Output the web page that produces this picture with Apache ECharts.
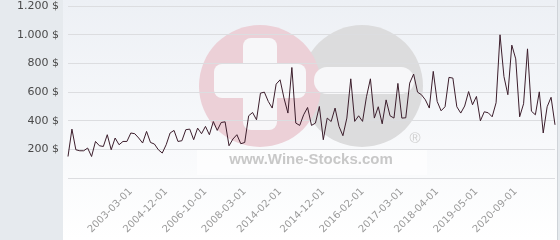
<!DOCTYPE html>
<html>
<head>
<meta charset="utf-8">
<script src="https://cdn.jsdelivr.net/npm/echarts@6/dist/echarts.min.js"></script>
<style>html,body{margin:0;padding:0;background:#e6eaee;}#c{width:560px;height:240px;}</style>
</head>
<body>
<div id="c"></div>
<script>
// Price series (USD), one value per auction date
const prices = [150,341,197,190,190,209,150,255,225,220,302,197,279,232,255,255,314,309,279,244,325,248,237,197,
174,232,314,332,255,260,337,341,267,348,309,360,302,394,332,387,392,225,272,302,239,248,434,457,406,592,
599,534,488,655,685,557,453,771,383,367,441,492,367,383,499,267,418,394,488,360,295,418,692,
395,434,395,567,692,418,497,378,545,434,418,660,418,420,662,725,599,581,545,488,744,534,469,497,702,697,
497,453,502,603,511,569,399,462,455,427,525,999,708,581,927,831,427,518,901,466,441,601,314,497,563,371];
// Labelled dates and the data point each one belongs to
const xTickLabels = ['2003-03-01','2004-12-01','2006-10-01','2008-03-01','2014-02-01','2014-12-01','2016-02-01','2017-03-01','2018-04-01','2019-05-01','2020-09-01'];
const xTickIndex = [16,25,35,45,54,65,75,85,94,104,114];
const yTicks = [0,200,400,600,800,1000,1200];

const categories = prices.map(() => '');
xTickIndex.forEach((idx, k) => { categories[idx] = xTickLabels[k]; });

function fmtY(v) {
  if (v === 0) return '';
  const s = v >= 1000 ? Math.floor(v / 1000) + '.' + String(v % 1000).padStart(3, '0') : String(v);
  return s + ' $';
}

const chart = echarts.init(document.getElementById('c'), null, {renderer: 'canvas'});
const wmFill = '#f7f7f9';
chart.setOption({
  animation: false,
  backgroundColor: '#e6eaee',
  grid: {left: 68, right: 5, top: 6, bottom: 62},
  graphic: [
    {type: 'rect', z: 0, shape: {x: 63, y: 0, width: 494, height: 240},
     style: {fill: new echarts.graphic.LinearGradient(0, 0, 0, 1, [{offset: 0, color: '#edf0f5'}, {offset: 1, color: '#ffffff'}])}},
    {type: 'circle', z: 1, shape: {cx: 362, cy: 86, r: 61}, style: {fill: '#dcdcdd'}},
    {type: 'circle', z: 1, shape: {cx: 260, cy: 86, r: 61}, style: {fill: '#ecd0d7'}},
    {type: 'rect', z: 1, shape: {x: 243, y: 38, width: 34, height: 92, r: 8}, style: {fill: wmFill}},
    {type: 'rect', z: 1, shape: {x: 214, y: 64, width: 92, height: 34, r: 8}, style: {fill: wmFill}},
    {type: 'rect', z: 1, shape: {x: 314, y: 67, width: 100, height: 27, r: 13}, style: {fill: wmFill}},
    {type: 'rect', z: 1, shape: {x: 197, y: 149, width: 230, height: 26}, style: {fill: 'rgba(255,255,255,0.6)'}},
    {type: 'text', z: 1, x: 311, y: 160, style: {text: 'www.Wine-Stocks.com', font: 'bold 15px "Liberation Sans"', fill: '#c8c8c8', align: 'center', verticalAlign: 'middle', textAlign: 'center', textVerticalAlign: 'middle'}},
    {type: 'text', z: 1, x: 415, y: 139, style: {text: '®', font: '15px "Liberation Sans"', fill: '#cfcfcf', align: 'center', verticalAlign: 'middle', textAlign: 'center', textVerticalAlign: 'middle'}},
    {type: 'line', z: 1, shape: {x1: 557.5, y1: 0, x2: 557.5, y2: 240}, style: {stroke: '#cfd3d8', lineWidth: 1}}
  ],
  xAxis: {
    type: 'category', data: categories, boundaryGap: false, z: 5,
    axisLine: {show: false}, axisTick: {show: false}, splitLine: {show: false},
    axisLabel: {rotate: 45, fontSize: 10, color: '#9a9a9a', fontFamily: 'DejaVu Sans', margin: 12,
      interval: (i, v) => v !== ''}
  },
  yAxis: {
    type: 'value', min: yTicks[0], max: yTicks[yTicks.length - 1], interval: 200, z: 5,
    axisLine: {show: false}, axisTick: {show: false},
    axisLabel: {fontSize: 11, color: '#4a4a4a', fontFamily: 'DejaVu Sans', margin: 9, formatter: fmtY},
    splitLine: {lineStyle: {color: '#dcdde0', width: 1}}
  },
  series: [{
    type: 'line', data: prices, symbol: 'none', z: 10,
    lineStyle: {color: '#3c1e2c', width: 1}
  }]
});
</script>
</body>
</html>
